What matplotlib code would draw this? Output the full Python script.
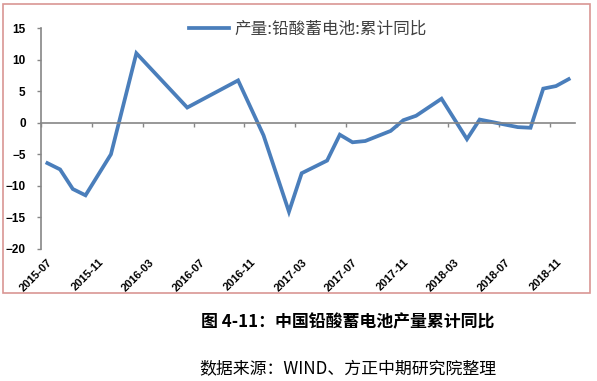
import numpy as np
import matplotlib
matplotlib.use("Agg")
import matplotlib.pyplot as plt
from matplotlib.patches import Rectangle

plt.rcParams['font.family'] = ['Noto Sans CJK SC', 'DejaVu Sans']

# data: month (from 2015-07 = 0) and cumulative yoy (%)
months = ['2015-07', '2015-08', '2015-09', '2015-10', '2015-12', '2016-02', '2016-06',
          '2016-10', '2016-12', '2017-02', '2017-03', '2017-05', '2017-06', '2017-07',
          '2017-08', '2017-10', '2017-11', '2017-12', '2018-02', '2018-04', '2018-05',
          '2018-08', '2018-09', '2018-10', '2018-11', '2018-12']
values = [-6.4, -7.4, -10.5, -11.5, -5.0, 11.0, 2.4,
          6.7, -2.0, -14.1, -8.0, -6.0, -1.9, -3.1,
          -2.9, -1.3, 0.4, 1.1, 3.8, -2.6, 0.5,
          -0.7, -0.8, 5.4, 5.8, 6.9]
tick_labels = ['2015-07', '2015-11', '2016-03', '2016-07', '2016-11', '2017-03',
               '2017-07', '2017-11', '2018-03', '2018-07', '2018-11']
series_name = '产量:铅酸蓄电池:累计同比'

def month_index(s):
    y, m = s.split('-')
    return (int(y) - 2015) * 12 + int(m) - 7

x = np.array([month_index(m) for m in months]) + 0.5
n_months = 42

fig = plt.figure(figsize=(5.97, 3.81), dpi=100)
ax = fig.add_axes([0.0687, 0.3465, 0.8945, 0.58])

grey = '#868686'
ax.plot(x, values, color='#4a7ebb', linewidth=2.7, solid_joinstyle='miter', label=series_name)

ax.set_xlim(0, n_months)
ax.set_ylim(-20, 15)
ax.set_yticks(np.arange(-20, 16, 5))
for lab in ax.get_yticklabels():
    lab.set_fontfamily('Liberation Sans')
    lab.set_fontweight('bold')
    lab.set_fontsize(8.5)

# x axis line sits at zero, ticks every 4 months
ax.spines['top'].set_visible(False)
ax.spines['right'].set_visible(False)
ax.spines['bottom'].set_position(('data', 0))
ax.spines['bottom'].set_color(grey)
ax.spines['left'].set_color(grey)
ax.spines['bottom'].set_linewidth(1.2)
ax.spines['left'].set_linewidth(1.2)
ax.set_xticks(np.arange(0, n_months, 4))
ax.tick_params(axis='x', length=3, width=1.0, color=grey, labelbottom=False)
ax.tick_params(axis='y', length=3, width=1.0, color=grey, pad=8)

# labels at the bottom
sec = ax.secondary_xaxis('bottom')
sec.set_xticks([month_index(t) + 0.5 for t in tick_labels])
sec.set_xticklabels(tick_labels, rotation=45, ha='right', rotation_mode='anchor',
                    fontfamily='Liberation Sans', fontweight='bold', fontsize=8)
sec.tick_params(length=0, pad=6)
sec.spines['bottom'].set_visible(False)

leg = ax.legend(loc='upper center', bbox_to_anchor=(0.5, 1.1), frameon=False,
                fontsize=12, handlelength=2.4, handletextpad=0.3)
for t in leg.get_texts():
    t.set_color('#404040')

# chart border
fig.patches.append(Rectangle((3 / 597, 1 - 293 / 381), 587 / 597, 289 / 381,
                             transform=fig.transFigure, fill=False,
                             edgecolor='#d99694', linewidth=1.2))

fig.text(348 / 597, 1 - 322 / 381, '图 4-11：中国铅酸蓄电池产量累计同比',
         ha='center', va='center', fontsize=12.2, fontweight='bold')
fig.text(348 / 597, 1 - 369 / 381, '数据来源：WIND、方正中期研究院整理',
         ha='center', va='center', fontsize=12.2)

fig.savefig('out.png', dpi=100)
